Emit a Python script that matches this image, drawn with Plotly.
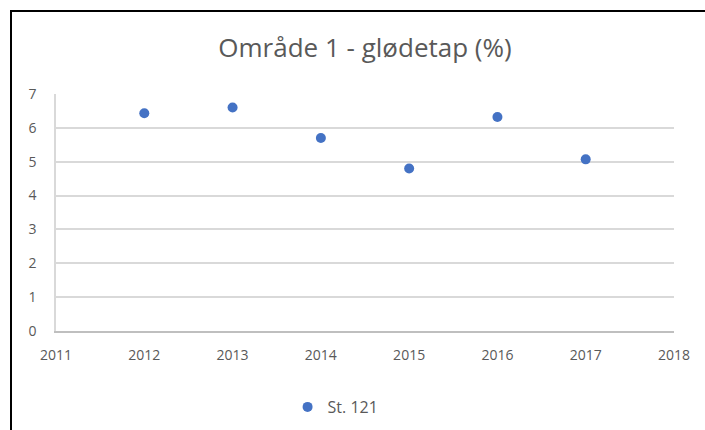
import plotly.graph_objects as go

years = [2012, 2013, 2014, 2015, 2016, 2017]
values = [6.43, 6.60, 5.70, 4.80, 6.32, 5.07]
series_name = "St. 121"
title_text = "Område 1 - glødetap (%)"

W, H = 705, 430
L, R, T, B = 56, 674, 94, 331
pw, ph = R - L, B - T

fig = go.Figure()
fig.add_trace(go.Scatter(
    x=years, y=values, mode="markers", name=series_name,
    marker=dict(color="#4472C4", size=10),
    showlegend=True,
))

fig.update_layout(
    width=W, height=H,
    margin=dict(l=L, r=W - R, t=T, b=H - B, pad=0),
    paper_bgcolor="white", plot_bgcolor="white",
    font=dict(family="Open Sans", color="#595959", size=13),
    title=dict(text=title_text, x=365 / W, xanchor="center", xref="container",
               y=1 - 48 / H, yanchor="middle", yref="container",
               font=dict(size=26, color="#595959")),
    showlegend=True,
    legend=dict(orientation="h", xref="container", yref="container",
                x=0.476, xanchor="center", y=1 - 407 / H, yanchor="middle",
                font=dict(size=16, color="#595959"), itemwidth=30),
    xaxis=dict(range=[2011, 2018], tickmode="linear", tick0=2011, dtick=1,
               showgrid=False, zeroline=False, showline=True,
               linecolor="#bfbfbf", linewidth=2, ticks="",
               ticklabelstandoff=10, tickfont=dict(size=14)),
    yaxis=dict(range=[0, 7], tickmode="linear", tick0=0, dtick=1,
               showgrid=True, gridcolor="#d9d9d9", gridwidth=1.5,
               zeroline=False, showline=True, linecolor="#d9d9d9", linewidth=1.5,
               ticks="", ticklabelstandoff=15, tickfont=dict(size=14)),
    shapes=[dict(type="rect", xref="paper", yref="paper",
                 x0=(11 - L) / pw, x1=(W + 40 - L) / pw,
                 y0=-(H + 40 - B) / ph, y1=1 + (T - 11) / ph,
                 line=dict(color="black", width=2), fillcolor="rgba(0,0,0,0)",
                 layer="above")],
)

fig.write_html(
    "out.html",
    config={"displayModeBar": False},
    post_script="document.body.style.margin='0';document.body.style.overflow='hidden';"
                "document.documentElement.style.overflow='hidden';",
)
